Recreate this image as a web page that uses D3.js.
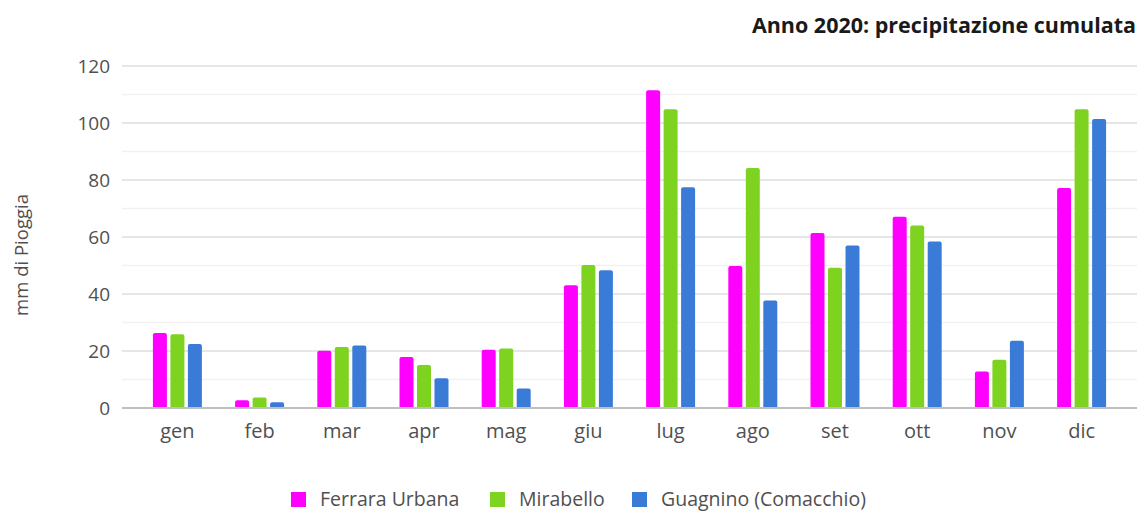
<!DOCTYPE html>
<html>
<head>
<meta charset="utf-8">
<script src="https://cdn.jsdelivr.net/npm/d3@7"></script>
<style>
  html, body { margin: 0; padding: 0; background: #fff; }
  svg { display: block; font-family: "Open Sans", "Noto Sans", sans-serif; }
</style>
</head>
<body>
<svg id="chart" width="1142" height="511"></svg>
<script>
// Monthly cumulative rainfall, 2020 (mm)
const months = ["gen", "feb", "mar", "apr", "mag", "giu", "lug", "ago", "set", "ott", "nov", "dic"];
const seriesNames = ["Ferrara Urbana", "Mirabello", "Guagnino (Comacchio)"];
const ferraraUrbana = [26.3, 2.7, 20.1, 17.9, 20.4, 43.1, 111.5, 49.8, 61.4, 67.1, 12.8, 77.2];
const mirabello     = [25.9, 3.7, 21.4, 15.1, 20.9, 50.2, 104.8, 84.2, 49.2, 64.0, 16.9, 104.8];
const guagnino      = [22.5, 2.0, 21.9, 10.4, 6.8, 48.3, 77.5, 37.7, 57.0, 58.4, 23.6, 101.4];
const seriesColors = ["#ff00ff", "#7ed321", "#3b7bd8"];
const yTicks = [0, 20, 40, 60, 80, 100, 120];
const yMinorTicks = [10, 30, 50, 70, 90, 110];

const seriesValues = [ferraraUrbana, mirabello, guagnino];
const data = months.map((m, i) => ({
  month: m,
  values: seriesNames.map((s, k) => ({ key: s, value: seriesValues[k][i], color: seriesColors[k] }))
}));

const svg = d3.select("#chart");
const plot = { left: 122, right: 1137, top: 66, bottom: 408 };
const textColor = "#505050";

const x0 = d3.scaleBand()
  .domain(months)
  .range([plot.left, plot.right])
  .paddingInner(0.404)
  .paddingOuter(0.376);

const x1 = d3.scaleBand()
  .domain(seriesNames)
  .range([0, x0.bandwidth()])
  .paddingInner(0.2);

const y = d3.scaleLinear().domain([0, 120]).range([plot.bottom, plot.top]);

// minor gridlines
svg.append("g").selectAll("line").data(yMinorTicks).join("line")
  .attr("x1", plot.left).attr("x2", plot.right)
  .attr("y1", d => y(d)).attr("y2", d => y(d))
  .attr("stroke", "#f1f1f1").attr("stroke-width", 1.5);

// major gridlines
svg.append("g").selectAll("line").data(yTicks.filter(d => d > 0)).join("line")
  .attr("x1", plot.left).attr("x2", plot.right)
  .attr("y1", d => y(d)).attr("y2", d => y(d))
  .attr("stroke", "#dedede").attr("stroke-width", 1.5);

// y axis labels
const yAxis = d3.axisLeft(y).tickValues(yTicks).tickSize(0).tickPadding(12);
const yg = svg.append("g").attr("transform", `translate(${plot.left},0)`).call(yAxis);
yg.select(".domain").remove();
yg.selectAll("text")
  .attr("fill", textColor)
  .style("font-size", "19px")
  .style("font-family", "'Open Sans', sans-serif");

// bars
const groups = svg.append("g").selectAll("g").data(data).join("g")
  .attr("transform", d => `translate(${x0(d.month)},0)`);

groups.selectAll("path").data(d => d.values).join("path")
  .attr("fill", d => d.color)
  .attr("d", d => {
    const bx = x1(d.key), bw = x1.bandwidth();
    const top = y(d.value), base = y(0);
    const r = Math.min(2, (base - top) / 2);
    return `M${bx},${base} V${top + r} Q${bx},${top} ${bx + r},${top} H${bx + bw - r} Q${bx + bw},${top} ${bx + bw},${top + r} V${base} Z`;
  });

// baseline
svg.append("line")
  .attr("x1", plot.left).attr("x2", plot.right)
  .attr("y1", y(0)).attr("y2", y(0))
  .attr("stroke", "#bfbfbf").attr("stroke-width", 2);

// x axis labels
const xAxis = d3.axisBottom(x0).tickSize(0).tickPadding(16);
const xg = svg.append("g").attr("transform", `translate(0,${plot.bottom})`).call(xAxis);
xg.select(".domain").remove();
xg.selectAll("text")
  .attr("fill", textColor)
  .style("font-size", "20px")
  .style("font-family", "'Open Sans', sans-serif");

// y axis title
svg.append("text")
  .attr("transform", "translate(28,255) rotate(-90)")
  .attr("text-anchor", "middle")
  .attr("fill", textColor)
  .style("font-size", "18.5px")
  .text("mm di Pioggia");

// title
svg.append("text")
  .attr("x", 1136).attr("y", 33)
  .attr("text-anchor", "end")
  .attr("fill", "#1a1a1a")
  .style("font-size", "21.5px")
  .style("font-weight", "bold")
  .text("Anno 2020: precipitazione cumulata");

// legend
const legendX = [291, 490, 632];
const legend = svg.append("g").selectAll("g").data(seriesNames).join("g")
  .attr("transform", (d, i) => `translate(${legendX[i]},492)`);
legend.append("rect")
  .attr("width", 15).attr("height", 15)
  .attr("fill", (d, i) => seriesColors[i]);
legend.append("text")
  .attr("x", 29).attr("y", 14)
  .attr("fill", textColor)
  .style("font-size", "19.5px")
  .text(d => d);
</script>
</body>
</html>
